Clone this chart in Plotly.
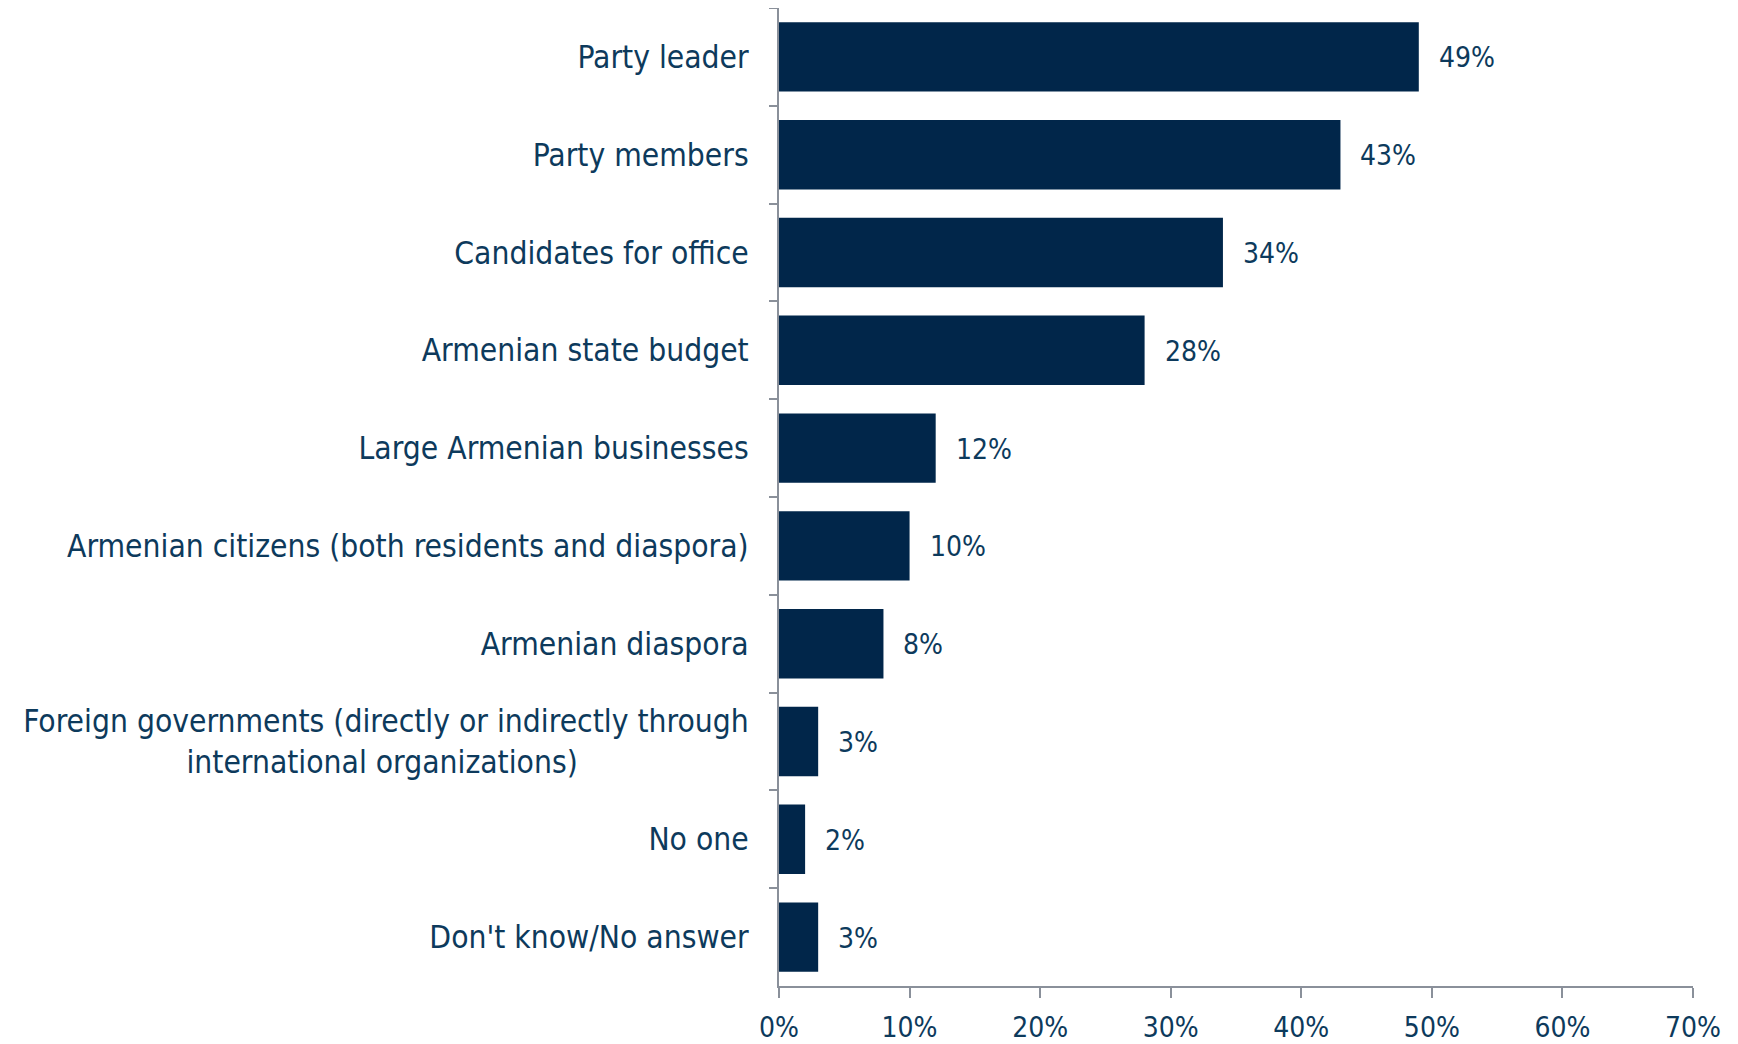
import plotly.graph_objects as go

categories = [
    "Party leader",
    "Party members",
    "Candidates for office",
    "Armenian state budget",
    "Large Armenian businesses",
    "Armenian citizens (both residents and diaspora)",
    "Armenian diaspora",
    "Foreign governments (directly or indirectly through<br>international organizations)" + "\u00a0" * 19,
    "No one",
    "Don't know/No answer",
]
values = [49, 43, 34, 28, 12, 10, 8, 3, 2, 3]
x_ticks = [0, 10, 20, 30, 40, 50, 60, 70]
x_tick_labels = [f"{v}%" for v in x_ticks]

BAR = "#01264a"
TXT = "#0d3a5c"
AXC = "#8a909a"
FONT = "DejaVu Sans Condensed, sans-serif"

fig = go.Figure(go.Bar(
    x=values, y=categories, orientation="h",
    marker=dict(color=BAR, line=dict(width=0)),
    hoverinfo="skip",
))
for c, v in zip(categories, values):
    fig.add_annotation(
        x=v, y=c, text=f"{v}%", showarrow=False, xanchor="left", xshift=18, yshift=-1,
        font=dict(family=FONT, size=28, color=TXT),
    )

fig.update_layout(
    width=1730, height=1036,
    margin=dict(l=771, r=45, t=0, b=54),
    plot_bgcolor="white", paper_bgcolor="white",
    bargap=0.29, showlegend=False,
    font=dict(family=FONT, size=31.5, color=TXT),
)
fig.update_yaxes(
    autorange="reversed", showline=True, linecolor=AXC, linewidth=2,
    ticks="outside", ticklen=8, tickwidth=2, tickcolor=AXC,
    tickson="boundaries", ticklabelstandoff=22,
    tickfont=dict(family=FONT, size=31.5, color=TXT), showgrid=False,
)
fig.update_xaxes(
    range=[0, 70], tickvals=x_ticks, ticktext=x_tick_labels,
    showline=True, linecolor=AXC, linewidth=2,
    ticks="outside", ticklen=10, tickwidth=2, tickcolor=AXC, ticklabelstandoff=5,
    tickfont=dict(family=FONT, size=28, color=TXT), showgrid=False, zeroline=False,
)
fig.write_html("out.html")
